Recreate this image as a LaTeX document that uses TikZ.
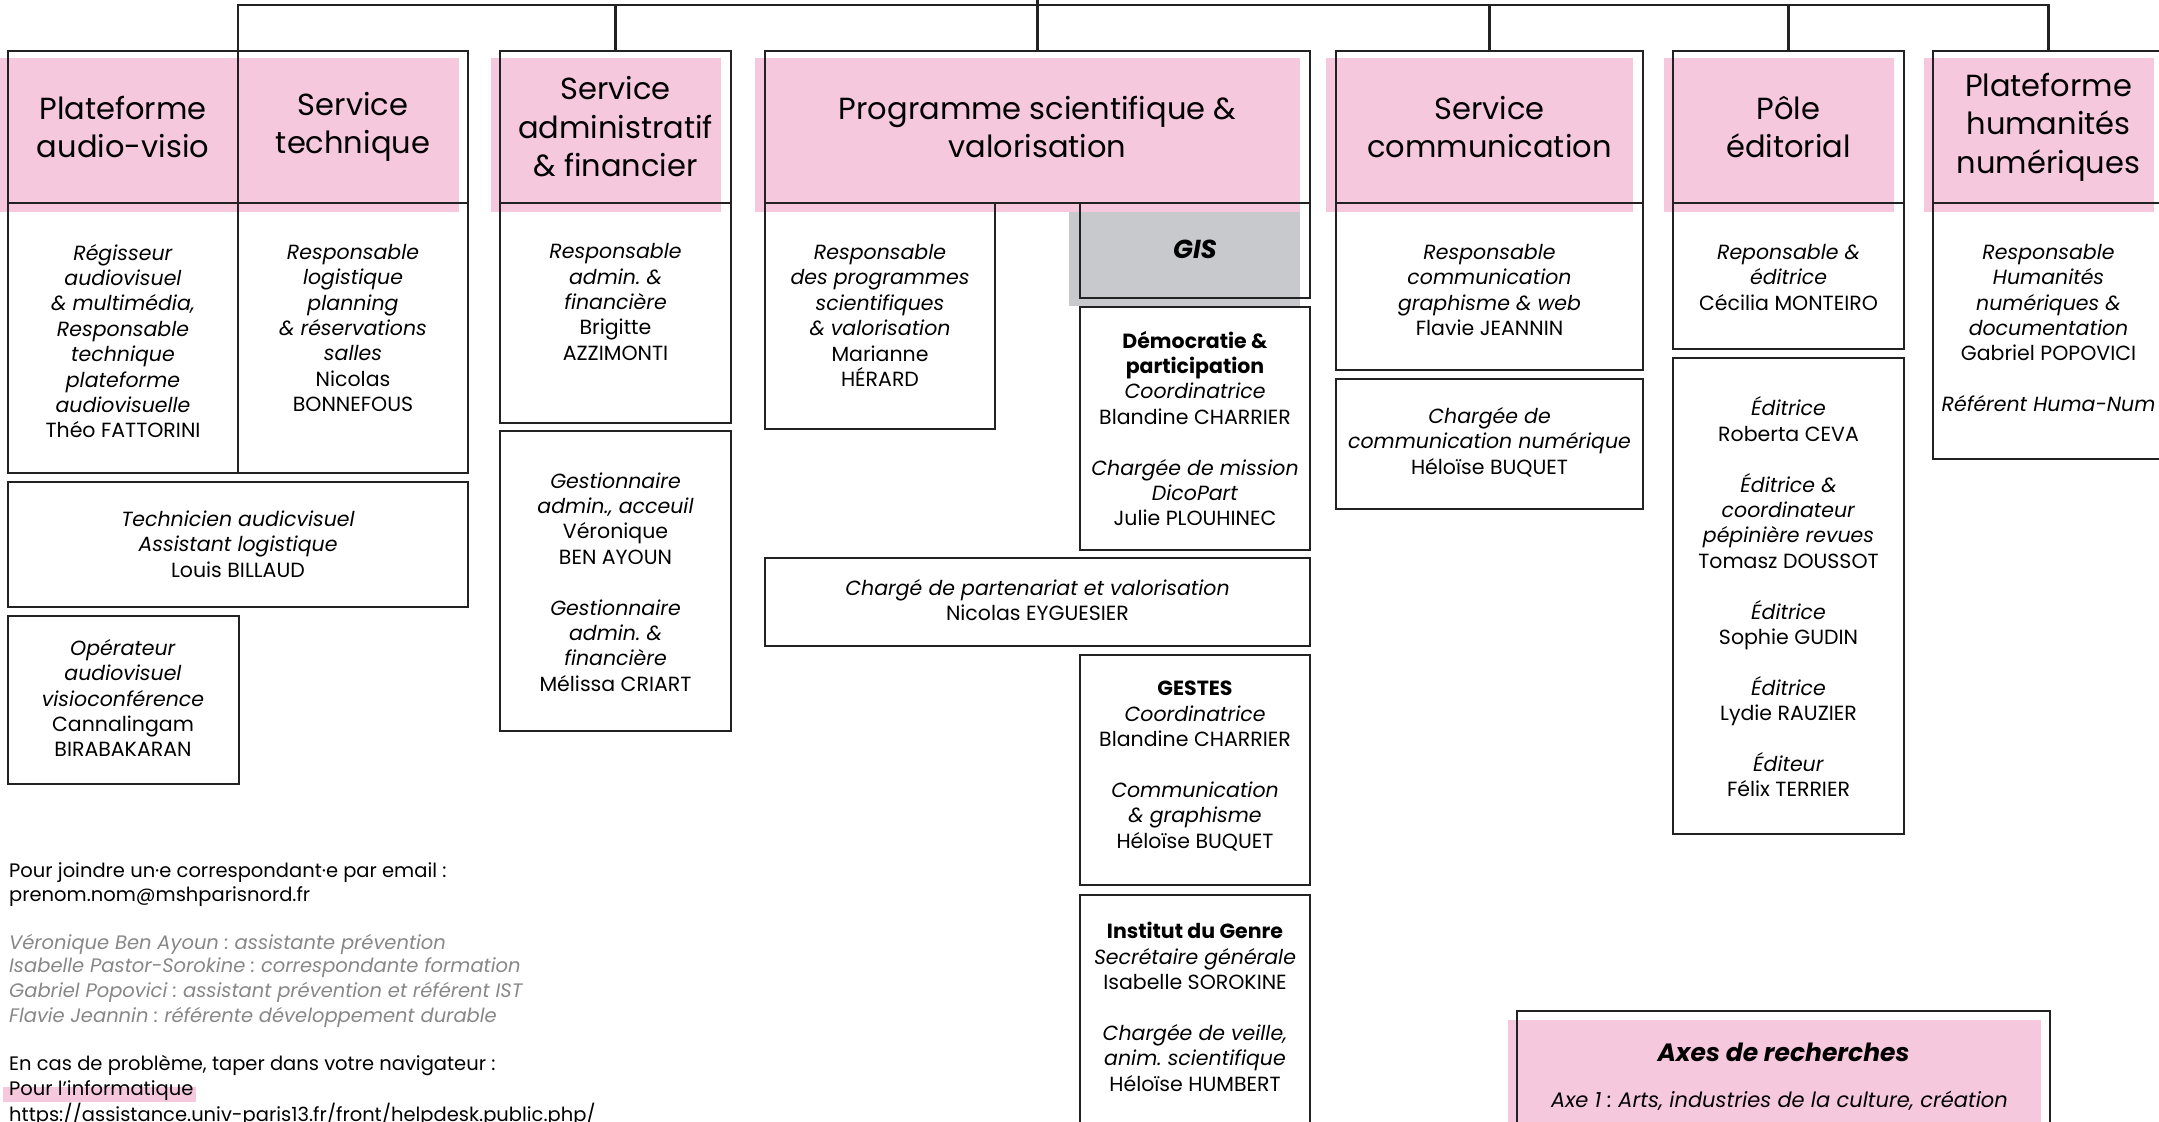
\documentclass[tikz,border=0pt]{standalone}
\usepackage{fontspec}
\setmainfont{Poppins}
\frenchspacing
\definecolor{pinkb}{RGB}{246,200,222}
\definecolor{grayb}{RGB}{200,201,204}
\definecolor{linec}{RGB}{34,34,34}
\definecolor{softgray}{RGB}{135,135,135}
\newcommand\bx[5]{\node[box,minimum width={(#4-#2)*1pt},minimum height={(#5-#3)*1pt}] (#1) at (#2,#3) {};}
\newcommand\I[1]{\textit{#1}}
\newcommand\B[1]{\textbf{#1}}
\begin{document}
\begin{tikzpicture}[x=1pt,y=-1pt,
  box/.style={draw=linec, line width=2.6pt, rectangle, inner sep=0pt, outer sep=0pt, anchor=north west},
  conn/.style={draw=linec, line width=2.4pt},
  hdr/.style={font=\fontsize{30.5}{38.5}\selectfont, align=center, text=black, inner sep=0pt},
  body/.style={font=\fontsize{20.5}{25.4}\selectfont, align=center, text=black, inner sep=0pt},
  note/.style={font=\fontsize{19.5}{24}\selectfont, align=left, text=black, inner sep=0pt, anchor=west},
  snote/.style={note, text=softgray, font=\fontsize{19.5}{24}\selectfont\itshape},
]
\clip (0,0) rectangle (2159,1121);
% pink header bands and grey GIS band
\fill[pinkb] (0,58) rectangle (459,212);
\fill[pinkb] (491,58) rectangle (721,212);
\fill[pinkb] (755,58) rectangle (1300,212);
\fill[pinkb] (1326,58) rectangle (1633,212);
\fill[pinkb] (1664,58) rectangle (1894,212);
\fill[pinkb] (1924,58) rectangle (2154,212);
\fill[grayb] (1069,212) rectangle (1300,306);
\fill[pinkb] (1508,1020) rectangle (2041,1140);
\fill[pinkb] (3,1087) rectangle (196,1102);

% boxes
\bx{hdrA}{8}{51}{238}{203}
\bx{hdrB}{238}{51}{468}{203}
\bx{bodA}{8}{203}{238}{473}
\bx{bodB}{238}{203}{468}{473}
\bx{tech}{8}{482}{468}{607}
\bx{oper}{8}{616}{239}{784}
\bx{hdrAdm}{500}{51}{731}{203}
\bx{bodAdm}{500}{203}{731}{423}
\bx{adm2}{500}{431}{731}{731}
\bx{hdrProg}{765}{51}{1310}{203}
\bx{resp}{765}{203}{995}{429}
\bx{gis}{1080}{203}{1310}{298}
\bx{demo}{1080}{307}{1310}{550}
\bx{part}{765}{558}{1310}{646}
\bx{gestes}{1080}{655}{1310}{885}
\bx{inst}{1080}{895}{1310}{1140}
\bx{hdrCom}{1336}{51}{1643}{203}
\bx{bodCom}{1336}{203}{1643}{370}
\bx{com2}{1336}{379}{1643}{509}
\bx{hdrPole}{1673}{51}{1904}{203}
\bx{bodPole}{1673}{203}{1904}{349}
\bx{pole2}{1673}{358}{1904}{834}
\bx{hdrHN}{1933}{51}{2164}{203}
\bx{bodHN}{1933}{203}{2164}{459}
\bx{axes}{1517}{1011}{2050}{1140}

% connectors
\coordinate (root) at (1037.5,-10);
\coordinate (bar) at (0,5);
\draw[conn] (root) -- (hdrProg.north);
\draw[conn] (hdrA.north east) -- (hdrA.north east |- bar) -- (hdrHN.north |- bar) -- (hdrHN.north);
\foreach \n in {hdrAdm,hdrCom,hdrPole} \draw[conn] (\n.north) -- (\n.north |- bar);

% header texts
\node[hdr] (tA) at (123,127) {Plateforme\\audio-visio};
\node[hdr] (tB) at (353,127) {Service\\technique};
\node[hdr] (tAdm) at (615.5,127) {Service\\administratif\\\& financier};
\node[hdr] (tProg) at (1037.5,127) {Programme scientifique \&\\valorisation};
\node[hdr] (tCom) at (1489.5,127) {Service\\communication};
\node[hdr] (tPole) at (1788.5,127) {Pôle\\éditorial};
\node[hdr] (tHN) at (2048.5,127) {Plateforme\\humanités\\numériques};

% body texts
\node[body] (xA) at (123,341) {\I{Régisseur}\\\I{audiovisuel}\\\I{\& multimédia,}\\\I{Responsable}\\\I{technique}\\\I{plateforme}\\\I{audiovisuelle}\\Théo FATTORINI};
\node[body] (xB) at (353,328) {\I{Responsable}\\\I{logistique}\\\I{planning}\\\I{\& réservations}\\\I{salles}\\Nicolas\\BONNEFOUS};
\node[body] (xTech) at (238,544) {\I{Technicien audicvisuel}\\\I{Assistant logistique}\\Louis BILLAUD};
\node[body] (xOper) at (123,698) {\I{Opérateur}\\\I{audiovisuel}\\\I{visioconférence}\\Cannalingam\\BIRABAKARAN};
\node[body] (xAdm) at (615.5,302) {\I{Responsable}\\\I{admin. \&}\\\I{financière}\\Brigitte\\AZZIMONTI};
\node[body] (xAdm2) at (615.5,582) {\I{Gestionnaire}\\\I{admin., acceuil}\\Véronique\\BEN AYOUN\\[25.4pt]\I{Gestionnaire}\\\I{admin. \&}\\\I{financière}\\Mélissa CRIART};
\node[body] (xResp) at (880,315.5) {\I{Responsable}\\\I{des programmes}\\\I{scientifiques}\\\I{\& valorisation}\\Marianne\\HÉRARD};
\node[body,font=\fontsize{26}{28}\selectfont\bfseries\itshape] (xGis) at (1195,249) {GIS};
\node[body] (xDemo) at (1195,428.5) {\B{Démocratie \&}\\\B{participation}\\\I{Coordinatrice}\\Blandine CHARRIER\\[25.4pt]\I{Chargée de mission}\\\I{DicoPart}\\Julie PLOUHINEC};
\node[body] (xPart) at (1037.5,600) {\I{Chargé de partenariat et valorisation}\\Nicolas EYGUESIER};
\node[body] (xGestes) at (1195,766) {\B{GESTES}\\\I{Coordinatrice}\\Blandine CHARRIER\\[25.4pt]\I{Communication}\\\I{\& graphisme}\\Héloïse BUQUET};
\node[body] (xInst) at (1195,1007) {\B{Institut du Genre}\\\I{Secrétaire générale}\\Isabelle SOROKINE\\[25.4pt]\I{Chargée de veille,}\\\I{anim. scientifique}\\Héloïse HUMBERT};
\node[body] (xCom) at (1489.5,290) {\I{Responsable}\\\I{communication}\\\I{graphisme \& web}\\Flavie JEANNIN};
\node[body] (xCom2) at (1489.5,442) {\I{Chargée de}\\\I{communication numérique}\\Héloïse BUQUET};
\node[body] (xPole) at (1788.5,277.5) {\I{Reponsable \&}\\\I{éditrice}\\Cécilia MONTEIRO};
\node[body] (xPole2) at (1788.5,597) {\I{Éditrice}\\Roberta CEVA\\[25.4pt]\I{Éditrice \&}\\\I{coordinateur}\\\I{pépinière revues}\\Tomasz DOUSSOT\\[25.4pt]\I{Éditrice}\\Sophie GUDIN\\[25.4pt]\I{Éditrice}\\Lydie RAUZIER\\[25.4pt]\I{Éditeur}\\Félix TERRIER};
\node[body] (xHN) at (2048.5,328) {\I{Responsable}\\\I{Humanités}\\\I{numériques \&}\\\I{documentation}\\Gabriel POPOVICI\\[25.4pt]\I{Référent Huma-Num}};
\node[body,font=\fontsize{25}{28}\selectfont\bfseries\itshape] (xAxes) at (1783.5,1052) {Axes de recherches};
\node[body,anchor=west,font=\fontsize{21}{25.4}\selectfont\itshape] (xAxe1) at (1551,1101) {Axe 1 : Arts, industries de la culture, création};

% notes bottom-left
\node[note] (n1) at (9,873) {Pour joindre un·e correspondant·e par email :};
\node[note] (n2) at (9,897) {prenom.nom@mshparisnord.fr};
\node[snote] (n3) at (9,944) {Véronique Ben Ayoun : assistante prévention};
\node[snote] (n4) at (9,968) {Isabelle Pastor-Sorokine : correspondante formation};
\node[snote] (n5) at (9,992) {Gabriel Popovici : assistant prévention et référent IST};
\node[snote] (n6) at (9,1017) {Flavie Jeannin : référente développement durable};
\node[note] (n7) at (9,1065) {En cas de problème, taper dans votre navigateur :};
\node[note] (n8) at (9,1091) {Pour l’informatique};
\node[note] (n9) at (9,1115) {https://assistance.univ-paris13.fr/front/helpdesk.public.php/};
\end{tikzpicture}
\end{document}
